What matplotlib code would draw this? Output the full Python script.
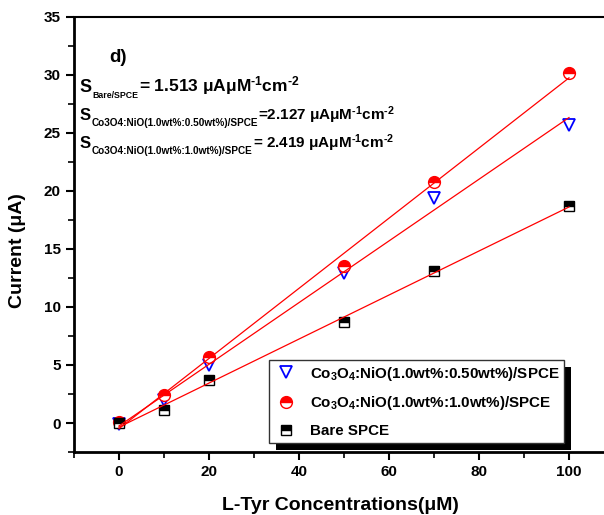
import numpy as np
import matplotlib.pyplot as plt
from matplotlib.patches import Rectangle
from matplotlib.transforms import IdentityTransform

plt.rcParams['font.family'] = ['Liberation Sans', 'DejaVu Sans']
plt.rcParams['font.weight'] = 'bold'
plt.rcParams['mathtext.fontset'] = 'custom'
plt.rcParams['mathtext.rm'] = 'Liberation Sans:bold'
plt.rcParams['mathtext.it'] = 'Liberation Sans:bold'
plt.rcParams['mathtext.bf'] = 'Liberation Sans:bold'
plt.rcParams['mathtext.default'] = 'regular'

# 数据
conc = [0, 10, 20, 50, 70, 100]
bare = [0.0, 1.1, 3.7, 8.7, 13.1, 18.7]
co_050 = [-0.1, 2.0, 5.0, 12.9, 19.4, 25.7]
co_100 = [0.05, 2.4, 5.7, 13.5, 20.8, 30.2]

labels = ['Co$_3$O$_4$:NiO(1.0wt%:0.50wt%)/SPCE',
          'Co$_3$O$_4$:NiO(1.0wt%:1.0wt%)/SPCE',
          'Bare SPCE']

# 灵敏度文字: 下标, 数值
sens_subs = ['Bare/SPCE', 'Co3O4:NiO(1.0wt%:0.50wt%)/SPCE', 'Co3O4:NiO(1.0wt%:1.0wt%)/SPCE']
sens_vals = ['= 1.513', '=2.127', '= 2.419']
sens_y = [28.55, 26.1, 23.7]

fig = plt.figure(figsize=(6.04, 5.15), dpi=100)
ax = fig.add_axes([0.1225, 0.1223, 0.894, 0.845])

x = np.array(conc)
# 拟合直线
for y in (bare, co_050, co_100):
    k, b = np.polyfit(x, y, 1)
    ax.plot([0, 100], [b, k * 100 + b], color='red', lw=0.9, zorder=3)

h1, = ax.plot(conc, co_050, ls='none', marker='v', ms=8, mfc='white',
              mec='blue', mew=1.3, zorder=2)
h2, = ax.plot(conc, co_100, ls='none', marker='o', ms=8.5, mfc='red',
              mfcalt='white', fillstyle='top', mec='red', mew=1.0, zorder=2)
h3, = ax.plot(conc, bare, ls='none', marker='s', ms=7.5, mfc='black',
              mfcalt='white', fillstyle='top', mec='black', mew=1.0, zorder=2)

ax.set_xlim(-10, 110)
ax.set_ylim(-2.5, 35)
ax.set_xticks([0, 20, 40, 60, 80, 100])
ax.set_xticks(np.arange(-10, 111, 10), minor=True)
ax.set_yticks(np.arange(0, 36, 5))
ax.set_yticks(np.arange(-2.5, 35.1, 2.5), minor=True)
ax.tick_params(which='major', direction='out', length=6, width=1.5, labelsize=11)
ax.tick_params(which='minor', direction='out', length=4, width=1.2)
ax.tick_params(top=False, right=False)
for s in ['left', 'bottom']:
    ax.spines[s].set_linewidth(2)
ax.spines['top'].set_linewidth(1.5)
ax.spines['right'].set_visible(False)

ax.set_xlabel('L-Tyr Concentrations(μM)', fontsize=14, fontweight='bold')
ax.set_ylabel('Current (μA)', fontsize=14, fontweight='bold')
ax.xaxis.set_label_coords(0.494, -0.122)
ax.yaxis.set_label_coords(-0.104, 0.464)
ax.xaxis.label.set_va('center')
ax.yaxis.label.set_va('center')

ax.text(-2.2, 31.1, 'd)', fontsize=13.5, fontweight='bold', va='baseline')
# 第一行字号略大
sizes = [(13, 6.3, 12.5), (12, 7.2, 11), (12, 7.2, 11)]
for sub, val, yy, (fs_s, fs_sub, fs_v) in zip(sens_subs, sens_vals, sens_y, sizes):
    t1 = ax.text(-8.7, yy, 'S', fontsize=fs_s, va='baseline')
    t2 = ax.annotate(sub, xy=(1, yy), xycoords=(t1, 'data'), xytext=(0.3, -4.5),
                     textcoords='offset points', va='baseline', fontsize=fs_sub)
    ax.annotate(val + r' μAμM$^{\text{-1}}$cm$^{\text{-2}}$', xy=(1, yy),
                xycoords=(t2, 'data'), xytext=(0.3, 0), textcoords='offset points',
                va='baseline', fontsize=fs_v)

leg = ax.legend([h1, h2, h3], labels, loc='upper left', bbox_to_anchor=(0.361, 0.2115),
                borderaxespad=0, fontsize=10.9, frameon=True, fancybox=False,
                edgecolor='#333333', framealpha=1, borderpad=0.3, labelspacing=0.78,
                handletextpad=0.8, handlelength=1.6)
leg.get_frame().set_linewidth(1.0)
leg.set_zorder(6)

# 图例阴影
fig.canvas.draw()
bb = leg.get_window_extent()
shadow = Rectangle((bb.x0 + 7, bb.y0 - 7), bb.width, bb.height, transform=IdentityTransform(),
                   facecolor='black', edgecolor='none', zorder=5.5, clip_on=False)
ax.add_patch(shadow)

fig.savefig('out.png', dpi=100)
